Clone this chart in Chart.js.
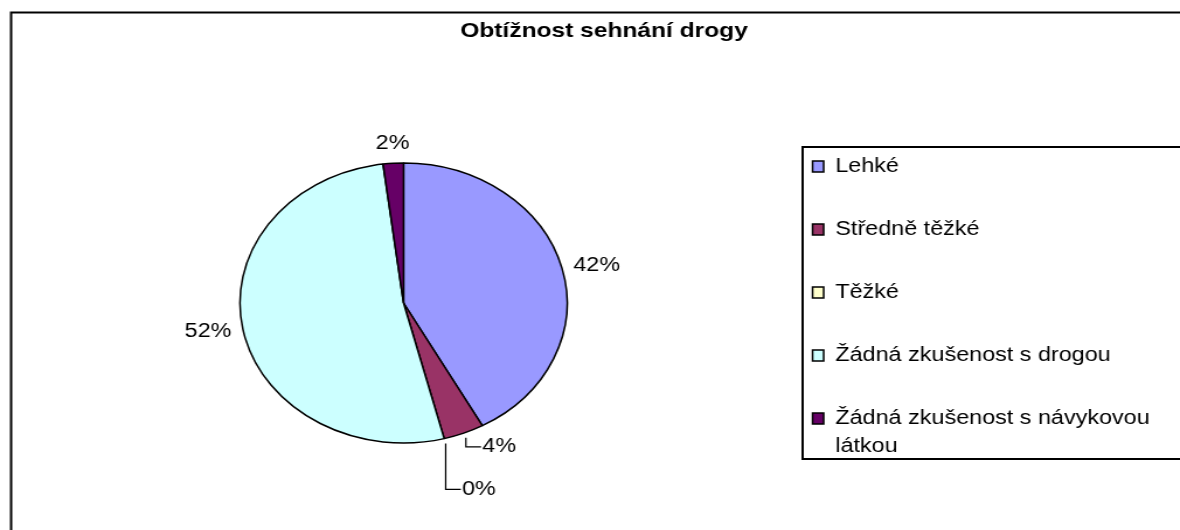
<!DOCTYPE html>
<html>
<head>
<meta charset="utf-8">
<script src="https://cdn.jsdelivr.net/npm/chart.js@4"></script>
<style>
  html, body { margin: 0; padding: 0; background: #fff; overflow: hidden; }
  /* puvodni obrazek je vodorovne roztazeny, proto scaleX */
  #wrap { width: 1030px; height: 530px; transform: scaleX(1.1683); transform-origin: 0 0; }
</style>
</head>
<body>
<div id="wrap"><canvas id="myChart" width="1030" height="530"></canvas></div>
<script>
// data grafu
const chartTitle = 'Obtížnost sehnání drogy';
const categories = ['Lehké', 'Středně těžké', 'Těžké', 'Žádná zkušenost s drogou', 'Žádná zkušenost s návykovou látkou'];
const percentValues = [42, 4, 0, 52, 2];
const sliceColors = ['#9999FF', '#993366', '#FFFFCC', '#CCFFFF', '#660066'];
// delka svisle casti odkazove cary u malych vysecí (0 = bez cary)
const leaderDrop = [0, 9, 46, 0, 0];

const FONT = '"Liberation Sans", Arial, sans-serif';

// jen leva, horni (a dolni) hrana - prava je mimo obrazek
function openBox(c, x, y, right, bottom) {
    c.beginPath();
    if (bottom !== null) {
        c.moveTo(right, bottom);
        c.lineTo(x, bottom);
    } else {
        c.moveTo(x, chartHeight);
    }
    c.lineTo(x, y);
    c.lineTo(right, y);
    c.stroke();
}
const chartHeight = 530;

// titulek, ramecek a legenda
const frame = {
    id: 'frame',
    beforeDraw(chart) {
        const c = chart.ctx;
        c.save();
        c.fillStyle = '#fff';
        c.fillRect(0, 0, chart.width, chart.height);
        c.strokeStyle = '#000';
        c.lineWidth = 2;
        openBox(c, 9.5, 12.5, chart.width, null);
        c.restore();
    },
    afterDraw(chart) {
        const c = chart.ctx;
        c.save();
        c.fillStyle = '#000';
        c.font = 'bold 21px ' + FONT;
        c.textAlign = 'center';
        c.textBaseline = 'middle';
        c.fillText(chartTitle, 517, 31);

        // legenda
        c.lineWidth = 2;
        c.strokeStyle = '#000';
        openBox(c, 687, 147, chart.width, 459);
        c.font = '20px ' + FONT;
        c.textAlign = 'left';
        const maxW = 292;
        categories.forEach((label, i) => {
            const y = 166.5 + i * 63;
            c.fillStyle = sliceColors[i];
            c.fillRect(695.5, y - 5.5, 9.5, 11);
            c.lineWidth = 1.5;
            c.strokeRect(695.5, y - 5.5, 9.5, 11);
            c.fillStyle = '#000';
            // zalamovani textu
            const words = label.split(' ');
            let line = '', ly = y;
            words.forEach(w => {
                const test = line ? line + ' ' + w : w;
                if (line && c.measureText(test).width > maxW) {
                    c.fillText(line, 715, ly);
                    line = w;
                    ly += 27.5;
                } else {
                    line = test;
                }
            });
            c.fillText(line, 715, ly);
        });
        c.restore();
    }
};

// popisky procent
const sliceLabels = {
    id: 'sliceLabels',
    afterDatasetsDraw(chart) {
        const c = chart.ctx;
        const meta = chart.getDatasetMeta(0);
        c.save();
        c.font = '20px ' + FONT;
        c.fillStyle = '#000';
        c.strokeStyle = '#000';
        c.lineWidth = 1.2;
        meta.data.forEach((arc, i) => {
            const p = arc.getProps(['x', 'y', 'startAngle', 'endAngle', 'outerRadius'], true);
            const mid = (p.startAngle + p.endAngle) / 2;
            const cos = Math.cos(mid), sin = Math.sin(mid);
            const text = percentValues[i] + '%';
            if (leaderDrop[i] > 0) {
                const sx = p.x + (p.outerRadius + 5) * cos;
                const sy = p.y + (p.outerRadius + 5) * sin;
                const ey = sy + leaderDrop[i];
                c.beginPath();
                c.moveTo(sx, sy);
                c.lineTo(sx, ey);
                c.lineTo(sx + 13, ey);
                c.stroke();
                c.textAlign = 'left';
                c.textBaseline = 'middle';
                c.fillText(text, sx + 14, ey);
                return;
            }
            const r = p.outerRadius + 10;
            const x = p.x + r * cos, y = p.y + r * sin;
            c.textAlign = cos > 0.5 ? 'left' : (cos < -0.5 ? 'right' : 'center');
            c.textBaseline = sin < -0.5 ? 'bottom' : (sin > 0.5 ? 'top' : 'middle');
            c.fillText(text, x, y);
        });
        c.restore();
    }
};

new Chart(document.getElementById('myChart'), {
    type: 'pie',
    data: {
        labels: categories,
        datasets: [{
            data: percentValues,
            backgroundColor: sliceColors,
            borderColor: '#000',
            borderWidth: 1.5
        }]
    },
    options: {
        responsive: false,
        animation: false,
        radius: 140,
        layout: { padding: { left: 205.4, right: 544.6, top: 163, bottom: 87 } },
        plugins: {
            legend: { display: false },
            title: { display: false },
            tooltip: { enabled: false }
        }
    },
    plugins: [frame, sliceLabels]
});
</script>
</body>
</html>
